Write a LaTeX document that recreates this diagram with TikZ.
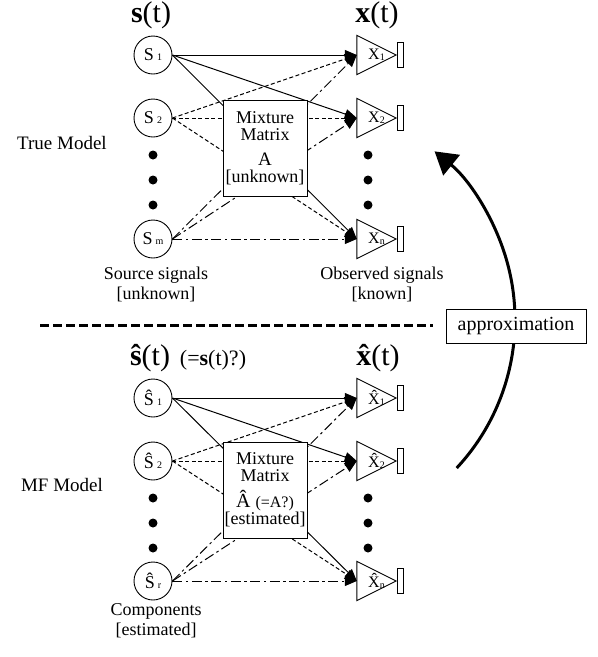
\documentclass[tikz,border=0pt]{standalone}
\usepackage{fontspec}
\setmainfont{Liberation Serif}
\usepackage{tikz}
\usetikzlibrary{arrows.meta, calc}
\newcommand{\fs}[1]{\fontsize{#1}{#1}\selectfont}
\newcommand{\sidx}[1]{\,{\fs{10}#1}}
\newcommand{\xidx}[1]{\raisebox{-1.5pt}{\fs{10}#1}\hspace{9pt}}
\newcommand{\hatx}{\ooalign{\textbf{x}\cr\hidewidth\textbf{\char"02C6}\hidewidth\cr}}

\begin{document}
\begin{tikzpicture}[
  x=1pt, y=-1pt,
  src/.style={circle,draw,line width=0.9pt,minimum size=38pt,inner sep=0pt,font=\fs{18}},
  obs/.style={minimum width=39pt,minimum height=39pt,inner sep=0pt,font=\fs{16}},
  mixbox/.style={rectangle,draw,fill=white,line width=0.9pt,minimum width=84pt,
                 minimum height=96pt,inner sep=0pt,align=center,font=\fontsize{18}{17}\selectfont},
  head/.style={anchor=base,font=\fs{30}},
  caption/.style={align=center,font=\fontsize{18}{20}\selectfont},
  bullet/.style={circle,fill=black,minimum size=9pt,inner sep=0pt},
  w1/.style={line width=1pt},
  w2/.style={line width=1pt,dash pattern=on 4pt off 2.5pt},
  w3/.style={line width=1pt,dash pattern=on 10pt off 3.5pt on 2.5pt off 3.5pt},
  >={Triangle[length=12pt,width=10pt]}
]
  \useasboundingbox (0,0) rectangle (598,657);

  % True model
  \node[head] (sth) at (151,22) {\textbf{s}(t)};
  \node[head] (xth) at (377,22) {\textbf{x}(t)};
  \node[src] (s1a) at (153,55)  {S\sidx{1}};
  \node[src] (s2a) at (153,118) {S\sidx{2}};
  \node[src] (sma) at (153,239) {S\sidx{m}};
  \node[obs] (x1a) at (376.5,55)  {X\xidx{1}};
  \node[obs] (x2a) at (376.5,118) {X\xidx{2}};
  \node[obs] (xna) at (376.5,239) {X\xidx{n}};
  \foreach \y in {155,180,205} {
    \node[bullet] (dsa\y) at (153,\y) {};
    \node[bullet] (dxa\y) at (368,\y) {};
  }
  \foreach \s/\lsty in {s1a/w1,s2a/w2,sma/w3} \foreach \t in {x1a,x2a,xna}
    \draw[\lsty,->] (\s.east) -- (\t.west);
  \node[mixbox] (mixa) at (265,148) {Mixture\\Matrix\\[8pt]{\fs{19}A}\\{[unknown]}};
  \node[font=\fs{19}] (truem) at (62,143) {True Model};
  \node[caption] (srcl) at (156,284) {Source signals\\{[unknown]}};
  \node[caption] (obsl) at (382,284) {Observed signals\\{[known]}};

  % MF model
  \node[head] (shb) at (150,365) {\textbf{\^{s}}(t)};
  \node[anchor=base,font=\fs{22}] (eqs) at (213,365) {(=\textbf{s}(t)?)};
  \node[head] (xhb) at (378,365) {\hatx(t)};
  \node[src] (s1b) at (153,398) {\^{S}\sidx{1}};
  \node[src] (s2b) at (153,461) {\^{S}\sidx{2}};
  \node[src] (srb) at (153,581) {\^{S}\sidx{r}};
  \node[obs] (x1b) at (376.5,398) {\^{X}\xidx{1}};
  \node[obs] (x2b) at (376.5,461) {\^{X}\xidx{2}};
  \node[obs] (xnb) at (376.5,581) {\^{X}\xidx{n}};
  \foreach \y in {498,523,548} {
    \node[bullet] (dsb\y) at (153,\y) {};
    \node[bullet] (dxb\y) at (368,\y) {};
  }
  \foreach \s/\lsty in {s1b/w1,s2b/w2,srb/w3} \foreach \t in {x1b,x2b,xnb}
    \draw[\lsty,->] (\s.east) -- (\t.west);
  \node[mixbox] (mixb) at (265,490) {Mixture\\Matrix\\[8pt]{\fs{20}\^{A} \fs{16}(=A?)}\\{[estimated]}};
  \node[font=\fs{19}] (mfm) at (62,485) {MF Model};
  \node[caption] (cmpl) at (156,621) {Components\\{[estimated]}};

  % triangles with output bars
  \foreach \t in {x1a,x2a,xna,x1b,x2b,xnb} {
    \draw[line width=0.9pt] (\t.north west) -- (\t.east) -- (\t.south west) -- cycle;
    \draw[line width=0.9pt] ($(\t.east)+(1,-12.5)$) rectangle ++(6,25);
  }

  % separator and approximation arrow
  \coordinate (sepl) at (40,325);
  \coordinate (sepr) at (433,325);
  \draw[line width=3pt,dash pattern=on 9pt off 4pt] (sepl) -- (sepr);
  \coordinate (arcs) at ($(298,320)+(43:217)$);
  \draw[line width=3pt,-{Triangle[length=22pt,width=26pt]}] (arcs)
    arc[start angle=43,end angle=-51,radius=217];
  \node[draw,fill=white,line width=0.9pt,minimum width=140pt,minimum height=34pt,
        font=\fs{20}] (approx) at (516,326) {approximation};
\end{tikzpicture}
\end{document}
